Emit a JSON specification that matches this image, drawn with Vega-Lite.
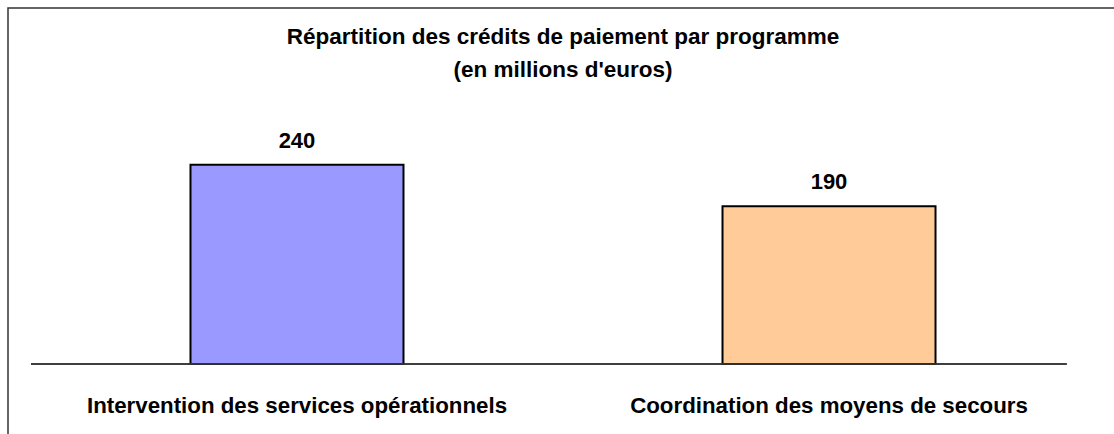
{
  "$schema": "https://vega.github.io/schema/vega-lite/v6.json",
  "width": 1110,
  "height": 432,
  "autosize": {"type": "none"},
  "padding": {"left": 8, "top": 8, "right": 0, "bottom": 0},
  "background": "white",
  "config": {
    "font": "Liberation Sans",
    "view": {"stroke": "#333333", "strokeWidth": 1.5}
  },
  "title": {
    "text": ["Répartition des crédits de paiement par programme", "(en millions d'euros)"],
    "orient": "top",
    "anchor": "middle",
    "baseline": "top",
    "offset": -73,
    "fontSize": 22.5,
    "fontWeight": "bold",
    "color": "black",
    "lineHeight": 33,
    "font": "Liberation Sans"
  },
  "data": {
    "values": [
      {"programme": "Intervention des services opérationnels", "cp": 240},
      {"programme": "Coordination des moyens de secours", "cp": 190}
    ]
  },
  "encoding": {
    "x": {
      "field": "programme",
      "type": "nominal",
      "sort": null,
      "scale": {"paddingOuter": 0.0432, "paddingInner": 0},
      "axis": {
        "title": null,
        "domain": false,
        "ticks": false,
        "labelAngle": 0,
        "offset": -76,
        "labelPadding": 30,
        "labelFontSize": 22.3,
        "labelFontWeight": "bold",
        "labelColor": "black",
        "labelFont": "Liberation Sans",
        "labelLimit": 700
      }
    }
  },
  "layer": [
    {
      "mark": {"type": "bar", "width": 213, "stroke": "black", "strokeWidth": 2},
      "encoding": {
        "y": {
          "field": "cp",
          "type": "quantitative",
          "scale": {"domain": [-91.6, 429], "nice": false, "zero": false},
          "axis": null
        },
        "color": {
          "field": "programme",
          "type": "nominal",
          "sort": null,
          "scale": {
            "domain": ["Intervention des services opérationnels", "Coordination des moyens de secours"],
            "range": ["#9999FF", "#FFCC99"]
          },
          "legend": null
        }
      }
    },
    {
      "mark": {"type": "text", "baseline": "alphabetic", "dy": -17, "fontSize": 22, "fontWeight": "bold", "color": "black", "font": "Liberation Sans"},
      "encoding": {
        "y": {"field": "cp", "type": "quantitative"},
        "text": {"field": "cp", "type": "quantitative"}
      }
    },
    {
      "mark": {"type": "rule", "color": "#333333", "strokeWidth": 1.5},
      "encoding": {
        "y": {"datum": 0},
        "x": {"datum": "Intervention des services opérationnels", "bandPosition": 0},
        "x2": {"datum": "Coordination des moyens de secours", "bandPosition": 0.947}
      }
    }
  ]
}
